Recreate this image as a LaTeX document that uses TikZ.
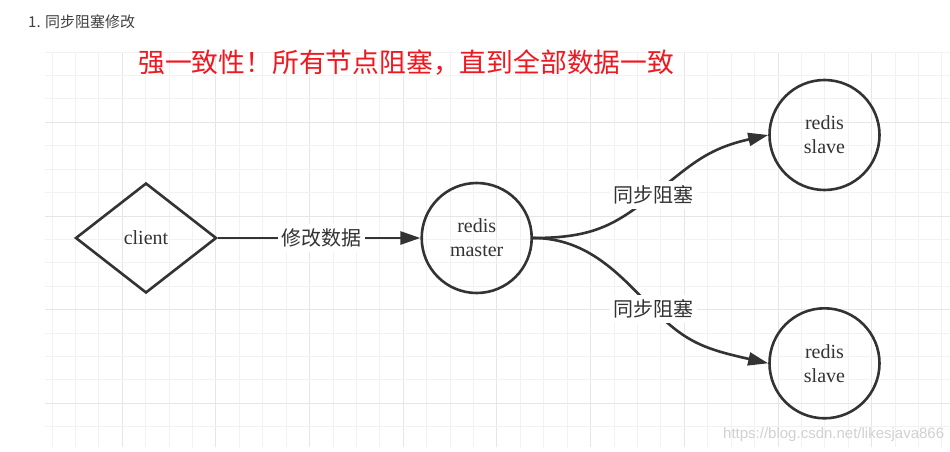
\documentclass[tikz,border=0pt]{standalone}
\usepackage{fontspec}
\setmainfont{Liberation Serif}
\newfontfamily\cjk{Noto Sans CJK SC}
\newfontfamily\wmfont{Liberation Sans}
\usetikzlibrary{shapes.geometric,arrows.meta}
\definecolor{ink}{HTML}{333333}
\definecolor{gmin}{HTML}{F2F2F2}
\definecolor{gmaj}{HTML}{E6E6E6}
\definecolor{titlered}{RGB}{238,24,32}
\definecolor{headgray}{HTML}{404040}
\begin{document}
\begin{tikzpicture}[x=1pt,y=-1pt,
  nd/.style={draw=ink, line width=2.6pt, text=ink, font=\fontsize{20}{24}\selectfont, align=center, inner sep=0pt},
  roundnode/.style={nd, circle, minimum size=110pt},
  edge/.style={draw=ink, line width=2.6pt, -{Triangle[length=20pt,width=13pt]}},
  lbl/.style={fill=white, text=ink, font=\cjk\fontsize{20}{24}\selectfont, inner xsep=3.5pt, inner ysep=5pt}
]
\useasboundingbox (0,0) rectangle (950,452);
\fill[white] (0,0) rectangle (950,452);
% grid
\begin{scope}
  \clip (45,52) rectangle (950,447);
  \foreach \i in {0,...,38} {
    \pgfmathtruncatemacro{\m}{mod(\i+1,4)}
    \pgfmathsetmacro{\gx}{round(51.5+23.42*\i)+0.5}
    \ifnum\m=0
      \draw[gmaj, line width=1.2pt] (\gx,52) -- ++(0,395);
    \else
      \draw[gmin, line width=1pt] (\gx,52) -- ++(0,395);
    \fi
  }
  \foreach \j in {0,...,17} {
    \pgfmathtruncatemacro{\m}{mod(\j+1,4)}
    \pgfmathsetmacro{\gy}{round(51.6+23.42*\j)+0.5}
    \ifnum\m=0
      \draw[gmaj, line width=1.2pt] (45,\gy) -- ++(905,0);
    \else
      \draw[gmin, line width=1pt] (45,\gy) -- ++(905,0);
    \fi
  }
\end{scope}
% watermark
\begin{scope}
  \clip (0,0) rectangle (950,452);
  \node[anchor=west, font=\wmfont\fontsize{15}{18}\selectfont, text=black!18, inner sep=0pt] (wm) at (723,435) {https://blog.csdn.net/likesjava866};
\end{scope}
% headings
\node[anchor=west, inner sep=0pt, text=headgray, font=\cjk\fontsize{15}{18}\selectfont] (head) at (28,22) {1. 同步阻塞修改};
\node[anchor=west, inner sep=0pt, text=titlered, font=\cjk\fontsize{26.8}{30}\selectfont] (title) at (138,63) {强一致性！所有节点阻塞，直到全部数据一致};
% nodes
\node[nd, diamond, aspect=1.28, minimum width=141pt, minimum height=110pt] (client) at (146,238) {client};
\node[roundnode] (master) at (476.7,238) {redis\\master};
\node[roundnode] (slave1) at (824.5,135) {redis\\slave};
\node[roundnode] (slave2) at (824.5,363.3) {redis\\slave};
% connectors
\coordinate (l1) at (653,195);
\coordinate (l2) at (653,309);
\draw[edge] (client.east) -- node[lbl, pos=0.51] (lab0) {修改数据} (master.west);
\draw[edge] (master.east) .. controls +(60,0) and +(-38,30) .. (l1) .. controls +(38,-30) and +(-62,14) .. (slave1.west);
\draw[edge] (master.east) .. controls +(55,0) and +(-33,-34) .. (l2) .. controls +(33,34) and +(-62,-14) .. (slave2.west);
\node[lbl] (lab1) at (l1) {同步阻塞};
\node[lbl] (lab2) at (l2) {同步阻塞};
\end{tikzpicture}
\end{document}
